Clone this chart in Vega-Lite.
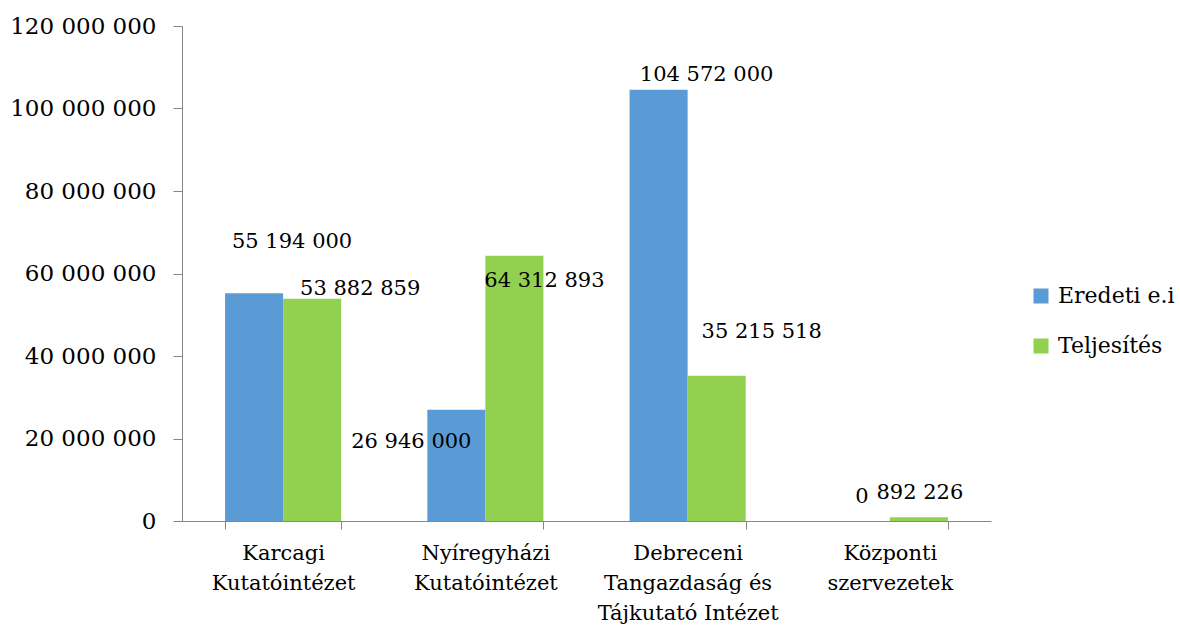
{
  "$schema": "https://vega.github.io/schema/vega-lite/v6.json",
  "width": 809,
  "height": 495,
  "autosize": {"type": "none"},
  "padding": {"left": 182, "top": 26, "right": 189, "bottom": 105},
  "background": "white",
  "config": {
    "locale": {"number": {"decimal": ",", "thousands": " ", "grouping": [3], "currency": ["", ""]}},
    "font": "DejaVu Serif",
    "view": {"stroke": null},
    "text": {"font": "DejaVu Serif", "fontSize": 21, "color": "#000000"}
  },
  "data": {
    "values": [
      {"intezet": "Karcagi Kutatóintézet", "sorozat": "Eredeti e.i", "osszeg": 55194000},
      {"intezet": "Karcagi Kutatóintézet", "sorozat": "Teljesítés", "osszeg": 53882859},
      {"intezet": "Nyíregyházi Kutatóintézet", "sorozat": "Eredeti e.i", "osszeg": 26946000},
      {"intezet": "Nyíregyházi Kutatóintézet", "sorozat": "Teljesítés", "osszeg": 64312893},
      {"intezet": "Debreceni Tangazdaság és Tájkutató Intézet", "sorozat": "Eredeti e.i", "osszeg": 104572000},
      {"intezet": "Debreceni Tangazdaság és Tájkutató Intézet", "sorozat": "Teljesítés", "osszeg": 35215518},
      {"intezet": "Központi szervezetek", "sorozat": "Eredeti e.i", "osszeg": 0},
      {"intezet": "Központi szervezetek", "sorozat": "Teljesítés", "osszeg": 892226}
    ]
  },
  "encoding": {
    "x": {
      "field": "intezet",
      "type": "nominal",
      "sort": ["Karcagi Kutatóintézet", "Nyíregyházi Kutatóintézet", "Debreceni Tangazdaság és Tájkutató Intézet", "Központi szervezetek"],
      "scale": {"paddingInner": 0.426, "paddingOuter": 0.213},
      "axis": {
        "title": null,
        "labelAngle": 0,
        "labelFont": "DejaVu Serif",
        "labelFontSize": 21,
        "labelColor": "#000000",
        "labelBaseline": "top",
        "labelLineHeight": 30,
        "labelPadding": 13,
        "labelLimit": 400,
        "tickSize": 8,
        "tickBand": "extent",
        "tickColor": "#868686",
        "domainColor": "#868686",
        "grid": false,
        "labelExpr": "datum.value == 'Karcagi Kutatóintézet' ? ['Karcagi', 'Kutatóintézet'] : datum.value == 'Nyíregyházi Kutatóintézet' ? ['Nyíregyházi', 'Kutatóintézet'] : datum.value == 'Központi szervezetek' ? ['Központi', 'szervezetek'] : datum.value == 'Debreceni Tangazdaság és Tájkutató Intézet' ? ['Debreceni', 'Tangazdaság és', 'Tájkutató Intézet'] : ''"
      }
    },
    "xOffset": {
      "field": "sorozat",
      "type": "nominal",
      "sort": ["Eredeti e.i", "Teljesítés"],
      "scale": {"paddingInner": 0, "paddingOuter": 0}
    },
    "y": {
      "field": "osszeg",
      "type": "quantitative",
      "scale": {"domain": [0, 120000000], "nice": false},
      "axis": {
        "title": null,
        "values": [0, 20000000, 40000000, 60000000, 80000000, 100000000, 120000000],
        "format": ",d",
        "labelFont": "DejaVu Serif",
        "labelFontSize": 23,
        "labelColor": "#000000",
        "labelPadding": 17,
        "labelLimit": 400,
        "tickSize": 9,
        "tickColor": "#868686",
        "domainColor": "#868686",
        "grid": false
      }
    }
  },
  "layer": [
    {
      "mark": {"type": "bar"},
      "encoding": {
        "color": {
          "field": "sorozat",
          "type": "nominal",
          "scale": {"domain": ["Eredeti e.i", "Teljesítés"], "range": ["#5B9BD5", "#92D050"]},
          "legend": {
            "title": null,
            "orient": "none",
            "legendX": 848,
            "legendY": 259,
            "symbolType": "square",
            "symbolSize": 225,
            "symbolStrokeWidth": 0,
            "labelFont": "DejaVu Serif",
            "labelFontSize": 22,
            "labelColor": "#000000",
            "labelOffset": 6,
            "labelLimit": 300,
            "rowPadding": 28
          }
        }
      }
    },
    {
      "transform": [{"filter": "datum.intezet == 'Karcagi Kutatóintézet' && datum.sorozat == 'Eredeti e.i'"}],
      "mark": {"type": "text", "align": "center", "baseline": "alphabetic", "dx": 38, "dy": -45},
      "encoding": {"text": {"field": "osszeg", "type": "quantitative", "format": ",d"}}
    },
    {
      "transform": [{"filter": "datum.intezet == 'Karcagi Kutatóintézet' && datum.sorozat == 'Teljesítés'"}],
      "mark": {"type": "text", "align": "center", "baseline": "alphabetic", "dx": 48, "dy": -4},
      "encoding": {"text": {"field": "osszeg", "type": "quantitative", "format": ",d"}}
    },
    {
      "transform": [{"filter": "datum.intezet == 'Nyíregyházi Kutatóintézet' && datum.sorozat == 'Eredeti e.i'"}],
      "mark": {"type": "text", "align": "center", "baseline": "alphabetic", "dx": -45, "dy": 38},
      "encoding": {"text": {"field": "osszeg", "type": "quantitative", "format": ",d"}}
    },
    {
      "transform": [{"filter": "datum.intezet == 'Nyíregyházi Kutatóintézet' && datum.sorozat == 'Teljesítés'"}],
      "mark": {"type": "text", "align": "center", "baseline": "alphabetic", "dx": 30, "dy": 31},
      "encoding": {"text": {"field": "osszeg", "type": "quantitative", "format": ",d"}}
    },
    {
      "transform": [{"filter": "datum.intezet == 'Debreceni Tangazdaság és Tájkutató Intézet' && datum.sorozat == 'Eredeti e.i'"}],
      "mark": {"type": "text", "align": "center", "baseline": "alphabetic", "dx": 48, "dy": -9},
      "encoding": {"text": {"field": "osszeg", "type": "quantitative", "format": ",d"}}
    },
    {
      "transform": [{"filter": "datum.intezet == 'Debreceni Tangazdaság és Tájkutató Intézet' && datum.sorozat == 'Teljesítés'"}],
      "mark": {"type": "text", "align": "center", "baseline": "alphabetic", "dx": 45, "dy": -38},
      "encoding": {"text": {"field": "osszeg", "type": "quantitative", "format": ",d"}}
    },
    {
      "transform": [{"filter": "datum.intezet == 'Központi szervezetek'"}],
      "mark": {"type": "text", "align": "center", "baseline": "alphabetic", "dx": 1, "dy": -18},
      "encoding": {"text": {"field": "osszeg", "type": "quantitative", "format": ",d"}}
    }
  ]
}
